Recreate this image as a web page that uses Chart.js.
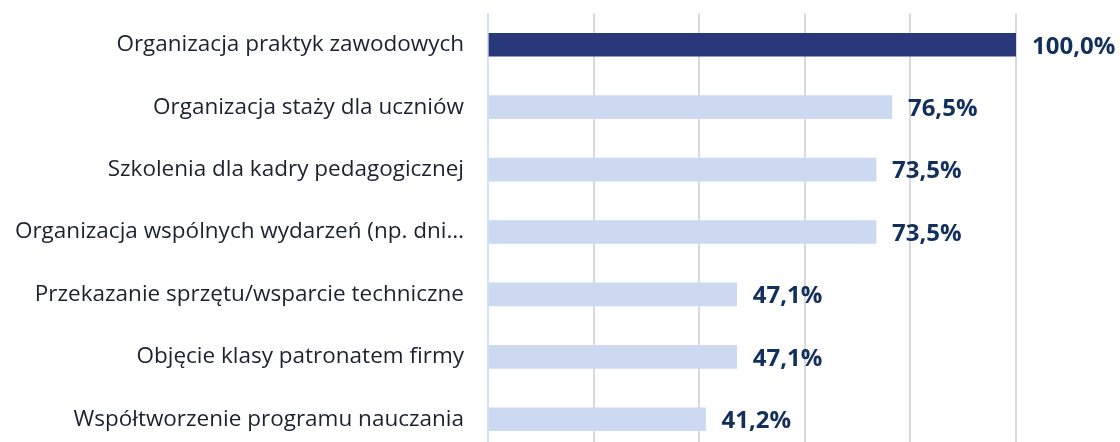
<!DOCTYPE html>
<html><head><meta charset="utf-8">
<script src="https://cdn.jsdelivr.net/npm/chart.js@4"></script>
<style>html,body{margin:0;padding:0;overflow:hidden;background:#fff;width:1120px;height:442px}#wrap{position:relative;width:1120px;height:512px;margin-top:-24px}</style>
</head><body><div id="wrap"><canvas id="c"></canvas></div>
<script>
const categories = [
  "Organizacja praktyk zawodowych",
  "Organizacja staży dla uczniów",
  "Szkolenia dla kadry pedagogicznej",
  "Organizacja wspólnych wydarzeń (np. dni…",
  "Przekazanie sprzętu/wsparcie techniczne",
  "Objęcie klasy patronatem firmy",
  "Współtworzenie programu nauczania"
];
const values = [100.0, 76.5, 73.5, 73.5, 47.1, 47.1, 41.2];
const xTicks = [0, 20, 40, 60, 80, 100];

const barColors = values.map((v, i) => i === 0 ? '#283878' : '#cdd9f0');

const labelPlugin = {
  id: 'valLabels',
  afterDatasetsDraw(chart) {
    const ctx = chart.ctx;
    const meta = chart.getDatasetMeta(0);
    ctx.save();
    ctx.font = 'bold 24px "Open Sans", sans-serif';
    ctx.fillStyle = '#132f5c';
    ctx.textAlign = 'left';
    ctx.textBaseline = 'middle';
    meta.data.forEach((el, i) => {
      const t = values[i].toFixed(1).replace('.', ',') + '%';
      ctx.fillText(t, el.x + 16, el.y + 2);
    });
    ctx.restore();
  }
};

new Chart(document.getElementById('c'), {
  type: 'bar',
  data: {
    labels: categories,
    datasets: [{ data: values, backgroundColor: barColors, barThickness: 23, borderWidth: 0 }]
  },
  options: {
    indexAxis: 'y',
    responsive: true,
    maintainAspectRatio: false,
    animation: false,
    layout: { padding: { top: 13, right: 104, bottom: 0, left: 0 } },
    plugins: { legend: { display: false }, tooltip: { enabled: false } },
    scales: {
      x: {
        min: 0, max: 100,
        afterBuildTicks(scale) { scale.ticks = xTicks.map(v => ({ value: v })); },
        ticks: { display: false },
        border: { display: false },
        grid: {
          color: ctx => ctx.tick && ctx.tick.value === 0 ? 'rgba(0,0,0,0)' : '#d9d9d9',
          lineWidth: 2,
          drawTicks: false
        }
      },
      y: {
        afterFit(scale) { scale.width = 488; },
        grid: { display: false, drawTicks: false },
        border: { display: true, color: '#cfe2f8', width: 2 },
        ticks: {
          padding: 24,
          color: '#1c2230',
          font: { family: '"Open Sans", sans-serif', size: 22.5 }
        }
      }
    }
  },
  plugins: [labelPlugin]
});
</script></body></html>
